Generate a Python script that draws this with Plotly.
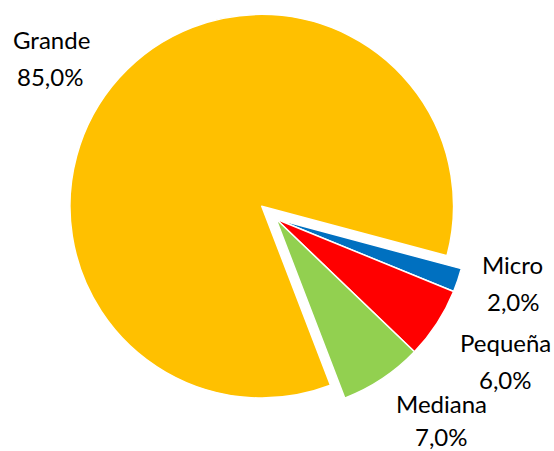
import plotly.graph_objects as go

# --- data ---
labels = ["Micro", "Pequeña", "Mediana", "Grande"]
values = [2.0, 6.0, 7.0, 85.0]

# --- styles / layout ---
colors = ["#0070C0", "#FF0000", "#92D050", "#FFC000"]
pulls = [0, 0, 0, 0.1]
W, H = 554, 451
L, R, T, B = 65, 67, 8, 21
PW, PH = W - L - R, H - T - B

# label text centres in pixels: (x_name, y_name, x_pct, y_pct)
label_pos = {
    "Grande": (51, 39, 50, 76),
    "Micro": (512, 264, 513, 301),
    "Pequeña": (505.5, 342, 505.5, 379),
    "Mediana": (441, 403, 441.5, 437),
}

fig = go.Figure(go.Pie(
    labels=labels,
    values=values,
    sort=False,
    direction="clockwise",
    rotation=105,
    pull=pulls,
    marker=dict(colors=colors, line=dict(color="white", width=1.5)),
    textinfo="none",
    hoverinfo="label+percent",
    showlegend=False,
))

total = sum(values)
font = dict(family="Lato", size=24, color="black")


def px2paper(x, y):
    return (x - L) / PW, 1 - (y - T) / PH


annotations = []
for lab, val in zip(labels, values):
    xn, yn, xp, yp = label_pos[lab]
    pct = f"{val / total * 100:.1f}".replace(".", ",") + "%"
    for txt, (x, y) in ((lab, px2paper(xn, yn)), (pct, px2paper(xp, yp))):
        annotations.append(dict(
            text=txt, x=x, y=y, xref="paper", yref="paper",
            xanchor="center", yanchor="middle", showarrow=False, font=font,
            borderpad=0,
        ))

fig.update_layout(
    width=W, height=H,
    margin=dict(l=L, r=R, t=T, b=B),
    separators=",.",
    paper_bgcolor="white",
    plot_bgcolor="white",
    annotations=annotations,
)

fig.write_html(
    "out.html",
    config={"displayModeBar": False},
    post_script="document.body.style.margin='0';document.body.style.overflow='hidden';",
)
